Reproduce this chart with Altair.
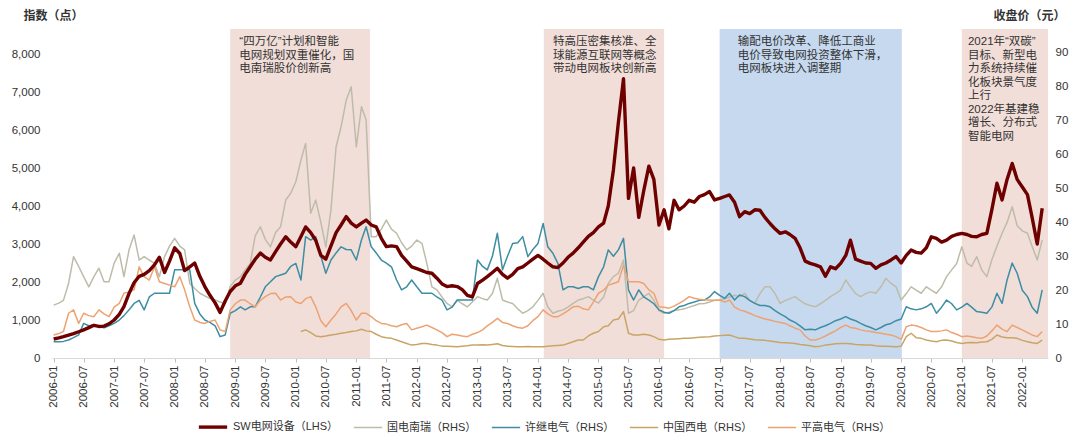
import altair as alt
import pandas as pd

series_names = ["SW电网设备（LHS）", "国电南瑞（RHS）", "许继电气（RHS）", "中国西电（RHS）", "平高电气（RHS）"]
series_colors = ["#6E0000", "#BEBCA9", "#3D8DA3", "#C9A565", "#EDA272"]
series_widths = [3.4, 1.5, 1.5, 1.5, 1.5]

# monthly points, 2006-01 .. 2022-05
months = pd.date_range("2006-01-01", periods=197, freq="MS")

sw = [
    500, 530, 560, 600, 640, 690, 740, 800, 860, 830, 840, 900,
    1000, 1150, 1350, 1700, 1980, 2150, 2200, 2300, 2450, 2650, 2250, 2550,
    2900, 2750, 2300, 2400, 2500, 2150, 1880, 1650, 1450, 1200, 1500, 1750,
    1900, 1970, 2200, 2400, 2600, 2760, 2650, 2580, 2800, 3000, 3190, 3050,
    2930, 3200, 3450, 3300, 3100, 2700, 2600, 2950, 3300, 3500, 3720, 3550,
    3450, 3550, 3630, 3500, 3450, 3150, 2930, 2950, 2930, 2700, 2550, 2400,
    2350, 2300, 2250, 2230, 2100, 1950, 1880, 1900, 1880, 1800, 1650, 1610,
    1960, 2050, 2140, 2250, 2360, 2200, 2100, 2200, 2350, 2400, 2500, 2600,
    2700, 2600, 2500, 2400, 2380, 2500, 2650, 2760, 2900, 3050, 3200, 3300,
    3450, 3550, 4000, 4950, 6200, 7350, 4200, 5000, 3700, 4400, 5050, 4700,
    3500, 3900, 3400, 4150, 3900, 4000, 4150, 4100, 4250, 4300, 4380, 4160,
    4200, 4250, 4290, 4100, 3720, 3850, 3800, 3900, 3890, 3700, 3540, 3400,
    3280, 3320, 3250, 3150, 2900, 2550, 2490, 2450, 2400, 2150, 2400, 2350,
    2490, 2700, 3100, 2600, 2550, 2500, 2490, 2360, 2450, 2500, 2580, 2670,
    2500, 2700, 2840, 2780, 2760, 2900, 3190, 3150, 3050, 3100, 3200, 3250,
    3280, 3250, 3200, 3190, 3250, 3280, 3900, 4600, 4160, 4700, 5120, 4700,
    4500, 4300, 3700, 3000, 3940,
]

nari = [
    15.6, 16.2, 17, 22, 29.9, 27, 24, 21, 24, 26.5, 22.5, 22.5,
    28, 30.9, 24, 31.9, 36.3, 28.9, 29.9, 28.9, 27.9, 24, 29.9, 33,
    35.3, 33, 31.9, 22, 20.5, 19.1, 18.3, 17.6, 17.1, 16.5, 16.1, 21,
    23, 24, 26, 27.9, 36, 38.7, 35, 32.8, 37, 38.7, 46.6, 48.6,
    52, 58.4, 63.3, 42.7, 46.6, 40, 32.8, 43.7, 62.3, 68.2, 76, 80,
    62.3, 74.1, 70.2, 35.8, 35.8, 38, 40.7, 38, 36.8, 34, 31.9, 33,
    34.8, 33.8, 28, 21, 20.1, 18, 16.1, 15.1, 17.1, 16, 15.1, 16.5,
    18.1, 17.5, 17.1, 19, 23.5, 17.1, 16.5, 16.1, 14.5, 13.2, 14, 15.1,
    17, 19.1, 15.1, 13.2, 13.8, 14.2, 15, 16.1, 17.1, 17.5, 18.1, 17.1,
    16.2, 18, 22, 24, 25, 28.9, 13.2, 14, 17.1, 18, 19.1, 17,
    14, 13.2, 13.5, 14, 14.2, 14.5, 15, 15.5, 16, 16.1, 16.5, 17,
    17.1, 17.5, 18, 18.5, 18.1, 19.1, 17, 16.1, 19, 21, 21, 19,
    16.1, 17, 17.5, 18.1, 17, 16, 15.5, 15.1, 16, 17, 18.1, 19,
    20, 23, 21, 19, 18.1, 19, 19.5, 19.1, 21, 23.5, 22, 21,
    17.1, 19, 21, 20, 19.1, 21, 20, 19.1, 21, 24, 26, 27.9,
    32.8, 28, 27, 29.9, 26, 24, 28.9, 33, 36.8, 40, 44.6, 39,
    37.5, 36.8, 33, 28.9, 34.8,
]

xuji = [
    4.8, 4.8, 4.9, 5.3, 6, 6.8, 10.2, 9.5, 9.7, 9.2, 8.9, 9.5,
    10.2, 11.2, 12.5, 14.2, 16.1, 17, 14.2, 18, 19.1, 19.1, 19.1, 19.1,
    26, 26, 26, 26, 16.1, 13, 11.2, 10.5, 9.5, 6.3, 6.8, 13.2,
    14, 15.1, 14.2, 15.1, 15.1, 18, 21, 22.5, 24, 24.5, 25, 27,
    27.9, 23, 35.8, 34.8, 35.8, 30, 25, 28.9, 31, 32.8, 32, 31.9,
    28.9, 34.8, 38.7, 32.8, 31, 28.9, 28, 26.9, 23, 20.1, 21, 23,
    21, 19.1, 19.1, 19.1, 18, 17.1, 14.2, 15, 17.1, 17.1, 17.1, 17.1,
    28.9, 27, 26, 30, 36.8, 26, 30, 33.8, 34, 35.8, 29.9, 32,
    33.8, 39.7, 32.8, 30.9, 27.9, 20.1, 21, 21, 20.5, 21, 21, 20.1,
    24, 26.9, 31.9, 30, 31.9, 35.3, 20, 17.1, 20.1, 18, 17.1, 16,
    14.2, 13.5, 13.2, 14, 15.1, 15.5, 16.1, 16.5, 17, 17.1, 18, 19.6,
    18.5, 17.6, 19.1, 17.1, 18.6, 18.1, 17, 16.1, 15.5, 15.5, 15.1, 14,
    13, 12.2, 11.2, 10.5, 9.5, 8.3, 8.5, 8.3, 9, 9.5, 10.2, 11,
    11.5, 12.2, 11.5, 11, 10.2, 9.5, 9, 8.3, 9, 9.8, 10.2, 11,
    11.5, 15.1, 14.5, 14.2, 14.5, 15.1, 16.1, 13.2, 15, 17.1, 16, 14.2,
    15, 16.1, 15, 13.7, 13.5, 13.2, 15, 19.1, 16.1, 23, 28, 25,
    20, 18.1, 15, 13.2, 20.1,
]

xidian = [None] * 49 + [
    7.8, 8.3, 7.5, 6.5, 6.3, 6.5, 6.8, 7, 7.3, 7.5, 7.8,
    8, 8.5, 8, 7.8, 7, 6.3, 6, 5.8, 5.3, 4.8, 4.3, 3.8,
    4, 4.3, 4.3, 4, 3.8, 3.5, 3.5, 3.4, 3.3, 3.5, 3.6, 3.8,
    3.8, 3.9, 3.8, 4, 4.2, 3.7, 3.5, 3.4, 3.3, 3.3, 3.4, 3.3,
    3.3, 3.3, 3.5, 3.6, 3.7, 3.8, 4.3, 4.8, 5.3, 5.3, 6.5, 7.3,
    7.8, 9.2, 9.5, 11.2, 11.5, 13.7, 7.3, 6.8, 6.8, 7, 6.8, 6.3,
    5.5, 5.3, 5.5, 5.6, 5.7, 5.8, 5.8, 6, 6.1, 6.2, 6.3, 6.5,
    6.6, 6.7, 6.8, 6.3, 5.8, 5.8, 5.6, 5.4, 5.3, 5.2, 5, 4.8,
    4.6, 4.5, 4.4, 4.3, 4, 3.8, 3.6, 3.3, 3.5, 3.8, 4, 4.2,
    4.3, 4.3, 4.2, 4, 3.9, 3.8, 3.8, 3.6, 3.5, 3.5, 3.4, 3.3,
    3.5, 6.3, 7.3, 6, 5.8, 5.3, 5, 4.8, 5.2, 5.3, 5, 4.6,
    4.3, 4.5, 4.6, 4.5, 4.7, 4.8, 5.5, 6.8, 6.2, 6, 6, 5.8,
    5.2, 4.8, 4.5, 4.3, 5.3,
]

pinggao = [
    6.8, 7.2, 7.8, 13.2, 14.2, 10.2, 13.2, 12.5, 12.2, 14.2, 13, 12.2,
    15, 16.1, 19.1, 19.5, 20.1, 26.9, 24, 23, 26.9, 22.5, 22, 21.5,
    21, 24, 20.1, 15.1, 11.2, 10.5, 10.2, 10.8, 11.2, 8.3, 7.8, 14.2,
    16, 17.1, 17.1, 16, 15.1, 17, 18.1, 19, 19.1, 17.1, 18, 18.1,
    16.5, 16.1, 17.5, 18.1, 15.1, 11, 9.2, 11.2, 13, 15.1, 16.1, 14,
    11.2, 13.2, 13.2, 12.2, 11, 10.2, 10, 9.5, 9.2, 9.8, 10.2, 8.3,
    8.8, 9.2, 9.7, 9, 8.3, 7.5, 6.3, 7, 6.8, 6.5, 6.3, 7,
    7.5, 8.3, 9.5, 10.5, 11.7, 10.5, 10.2, 9.5, 9, 8.8, 9.5, 11,
    12.2, 14.2, 13, 12.2, 12.2, 13, 14, 15.1, 15.3, 14.5, 14.2, 16.5,
    19.1, 20, 21.5, 22, 22.5, 27.4, 22.5, 22.5, 22.5, 22, 20.1, 19.1,
    15.1, 15, 14.7, 15.3, 16.1, 17, 18.1, 17.6, 17.3, 17.1, 17.1, 17,
    17.1, 16.5, 17.1, 15, 14.2, 13.8, 13.2, 12.5, 12, 11.5, 11.2, 10.8,
    10.5, 10.2, 9.5, 8.8, 8.3, 6.5, 5.3, 5.3, 5.8, 6.5, 7.3, 8,
    9, 9.7, 9, 8.8, 8.3, 8, 7.8, 7.5, 7.3, 7, 6.8, 6.3,
    5.5, 9.2, 9.7, 9.5, 9, 8.3, 7.8, 7.8, 8, 8.3, 7.5, 7,
    6.3, 6.5, 6.3, 6, 5.8, 6.5, 8, 9.7, 8.5, 7.8, 9.7, 9,
    8.3, 7.5, 6.8, 6.3, 7.8,
]

# shaded periods
shade_start = ["2008-12-01", "2014-02-05", "2017-01-01", "2021-01-01"]
shade_end = ["2011-03-25", "2016-02-01", "2020-01-05", "2022-06-05"]
shade_kind = ["pink", "pink", "blue", "pink"]

# annotations
note_dates = ["2009-01-25", "2014-04-01", "2017-04-20", "2021-02-07"]
note_texts = [
    "“四万亿”计划和智能\n电网规划双重催化，国\n电南瑞股价创新高",
    "特高压密集核准、全\n球能源互联网等概念\n带动电网板块创新高",
    "输配电价改革、降低工商业\n电价导致电网投资整体下滑，\n电网板块进入调整期",
    "2021年“双碳”\n目标、新型电\n力系统持续催\n化板块景气度\n上行\n2022年基建稳\n增长、分布式\n智能电网",
]

FONT = "Liberation Sans, Noto Sans CJK SC"
W, H = 996, 329
LBL = 11.5

df_sw = pd.DataFrame({"date": months, "value": sw, "series": series_names[0]})
df_rhs = pd.concat(
    [
        pd.DataFrame({"date": months, "value": vals, "series": name})
        for name, vals in zip(series_names[1:], [nari, xuji, xidian, pinggao])
    ]
).dropna()
df_shade = pd.DataFrame(
    {"start": pd.to_datetime(shade_start), "end": pd.to_datetime(shade_end), "kind": shade_kind}
)
df_note = pd.DataFrame({"date": pd.to_datetime(note_dates), "text": note_texts})

tick_vals = [alt.DateTime(year=y, month=m, date=1) for y in range(2006, 2023) for m in (1, 7)]
tick_vals = tick_vals[:-1]

x_scale = alt.Scale(
    domain=[alt.DateTime(year=2005, month=12, date=22), alt.DateTime(year=2022, month=6, date=5)]
)
x_axis = alt.Axis(
    values=tick_vals,
    format="%Y-%m",
    labelAngle=270,
    title=None,
    grid=False,
    domainColor="#D9D9D9",
    tickColor="#BFBFBF",
    tickSize=4,
    labelPadding=3,
    labelFont=FONT,
    labelFontSize=LBL,
    labelColor="#333333",
)


def xenc(field):
    return alt.X(field, type="temporal", scale=x_scale, axis=x_axis)


def make_legend():
    return alt.Legend(
        orient="none",
        legendX=145,
        legendY=382,
        direction="horizontal",
        title=None,
        symbolType="stroke",
        symbolSize=800,
        labelFont=FONT,
        labelFontSize=11,
        labelColor="#333333",
        labelOffset=4,
        columnPadding=11,
    )


color_enc = alt.Color(
    "series:N",
    scale=alt.Scale(domain=series_names, range=series_colors),
    legend=make_legend(),
)
width_enc = alt.StrokeWidth(
    "series:N",
    scale=alt.Scale(type="ordinal", domain=series_names, range=series_widths),
    legend=make_legend(),
)

shade = alt.Chart(df_shade).mark_rect().encode(
    x=xenc("start"),
    x2="end",
    y=alt.value(0),
    y2=alt.value(H),
    fill=alt.Fill("kind:N", scale=alt.Scale(domain=["pink", "blue"], range=["#F2DED9", "#C6D9EF"]), legend=None),
)

rhs = alt.Chart(df_rhs).mark_line(strokeJoin="round").encode(
    x=xenc("date"),
    y=alt.Y(
        "value:Q",
        scale=alt.Scale(domain=[0, 97.05], nice=False, zero=True),
        axis=alt.Axis(
            orient="right",
            values=list(range(0, 91, 10)),
            title="收盘价（元）",
            titleAngle=0,
            titleX=-55,
            titleY=-14,
            titleAlign="left",
            titleBaseline="middle",
            titleFont=FONT,
            titleFontSize=12,
            titleFontWeight="bold",
            titleColor="#333333",
            domain=False,
            ticks=False,
            grid=False,
            labelPadding=7,
            labelFont=FONT,
            labelFontSize=LBL,
            labelColor="#333333",
        ),
    ),
    color=color_enc,
    strokeWidth=width_enc,
    detail="series:N",
)

lhs = alt.Chart(df_sw).mark_line(strokeJoin="round").encode(
    x=xenc("date"),
    y=alt.Y(
        "value:Q",
        scale=alt.Scale(domain=[0, 8658], nice=False, zero=True),
        axis=alt.Axis(
            orient="left",
            values=list(range(0, 8001, 1000)),
            format=",d",
            title="指数（点）",
            titleAngle=0,
            titleX=-29,
            titleY=-14,
            titleAlign="left",
            titleBaseline="middle",
            titleFont=FONT,
            titleFontSize=12,
            titleFontWeight="bold",
            titleColor="#333333",
            domain=False,
            ticks=False,
            grid=False,
            labelPadding=12,
            labelFont=FONT,
            labelFontSize=LBL,
            labelColor="#333333",
        ),
    ),
    color=color_enc,
    strokeWidth=width_enc,
)

notes = alt.Chart(df_note).mark_text(
    align="left",
    baseline="top",
    lineBreak="\n",
    lineHeight=13.5,
    font=FONT,
    fontSize=11.5,
    color="#333333",
).encode(x=xenc("date"), y=alt.value(7), text="text:N")

chart = (
    alt.layer(shade, rhs, lhs, notes)
    .resolve_scale(y="independent")
    .properties(
        width=W,
        height=H,
        autosize=alt.AutoSizeParams(type="none"),
        padding={"left": 44, "top": 21, "right": 24, "bottom": 75},
        background="white",
    )
    .configure_view(stroke=None)
)

chart.save("out.html", embed_options={"renderer": "svg", "actions": False})
